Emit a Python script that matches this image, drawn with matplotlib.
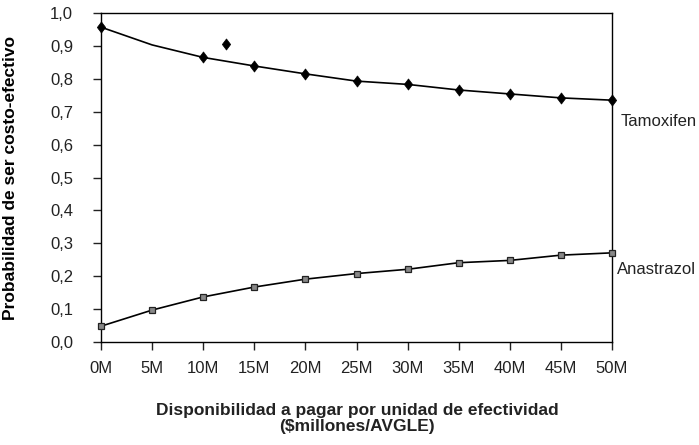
import matplotlib
matplotlib.use("Agg")
import matplotlib.pyplot as plt
from matplotlib.ticker import FuncFormatter
from matplotlib.path import Path

plt.rcParams['font.family'] = ['Liberation Sans', 'DejaVu Sans']

x_vals = [0, 5, 10, 15, 20, 25, 30, 35, 40, 45, 50]
x_labels = ['0M', '5M', '10M', '15M', '20M', '25M', '30M', '35M', '40M', '45M', '50M']
tamoxifen = [0.957, 0.903, 0.865, 0.839, 0.815, 0.793, 0.783, 0.766, 0.754, 0.742, 0.735]
anastrazol = [0.048, 0.097, 0.137, 0.167, 0.191, 0.208, 0.221, 0.241, 0.248, 0.264, 0.271]
tam_marker_x = [0, 10, 15, 20, 25, 30, 35, 40, 45, 50]
tam_marker_y = [0.957, 0.865, 0.839, 0.815, 0.793, 0.783, 0.766, 0.754, 0.742, 0.735]
outlier_x = [12.2]
outlier_y = [0.906]

diamond = Path([(0, 1), (0.75, 0), (0, -1), (-0.75, 0), (0, 1)],
               [Path.MOVETO, Path.LINETO, Path.LINETO, Path.LINETO, Path.CLOSEPOLY])

fig = plt.figure(figsize=(6.99, 4.45), dpi=100)
ax = fig.add_axes([101/699, 1-342/445, (612-101)/699, (342-13)/445])

ax.plot(x_vals, tamoxifen, color='black', lw=1.2, zorder=2)
ax.plot(tam_marker_x, tam_marker_y, linestyle='none', marker=diamond, ms=8,
        color='black', markeredgewidth=0.5, clip_on=False, zorder=3)
ax.plot(outlier_x, outlier_y, linestyle='none', marker=diamond, ms=8,
        color='black', markeredgewidth=0.5, clip_on=False, zorder=3)
ax.plot(x_vals, anastrazol, color='black', lw=1.2, marker='s', ms=4,
        markerfacecolor='#888888', markeredgecolor='#222222', markeredgewidth=0.9,
        clip_on=False, zorder=3)

ax.set_xlim(0, 50)
ax.set_ylim(0, 1.0)
ax.set_xticks(x_vals)
ax.set_xticklabels(x_labels)
ax.set_yticks([i / 10 for i in range(11)])
ax.yaxis.set_major_formatter(FuncFormatter(lambda v, p: f"{v:.1f}".replace('.', ',')))

for s in ax.spines.values():
    s.set_linewidth(1.0)
    s.set_color('black')
ax.tick_params(axis='both', direction='out', length=6, width=1.0, labelsize=12, colors='#222222')
ax.tick_params(axis='x', pad=8)
ax.tick_params(axis='y', pad=14)

ax.set_ylabel('Probabilidad de ser costo-efectivo', fontsize=12.5, fontweight='bold')
ax.yaxis.set_label_coords(-0.162, 0.5)
fig.text(357/699, 1-410/445, 'Disponibilidad a pagar por unidad de efectividad',
         ha='center', va='center', fontsize=12.5, fontweight='bold', color='#222222')
fig.text(357/699, 1-426/445, '($millones/AVGLE)',
         ha='center', va='center', fontsize=12.5, fontweight='bold', color='#222222')

fig.text(621/699, 1-122/445, 'Tamoxifen', ha='left', va='center', fontsize=12, color='#222222')
fig.text(617/699, 1-270/445, 'Anastrazol', ha='left', va='center', fontsize=12, color='#222222')

fig.savefig('out.png', dpi=100)
